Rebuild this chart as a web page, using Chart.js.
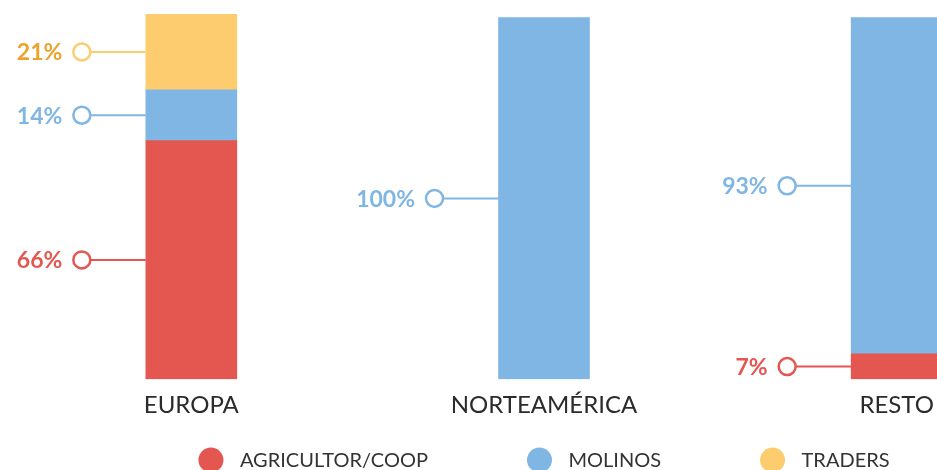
<!DOCTYPE html>
<html>
<head>
<meta charset="utf-8">
<script src="https://cdn.jsdelivr.net/npm/chart.js@4.4.1/dist/chart.umd.min.js"></script>
<style>
  html, body { margin: 0; padding: 0; background: #ffffff; overflow: hidden; }
  #wrap { position: relative; width: 937px; height: 470px; overflow: hidden; }
  #box { position: absolute; left: 0; top: 0; width: 1090px; height: 484px; }
</style>
</head>
<body>
<div id="wrap"><div id="box"><canvas id="c"></canvas></div></div>
<script>
const categories = ["EUROPA", "NORTEAMÉRICA", "RESTO"];
const seriesNames = ["AGRICULTOR/COOP", "MOLINOS", "TRADERS"];
const agricultor = [66, null, 7];
const molinos = [14, 100, 93];
const traders = [21, null, null];

const barColors = ["#E35750", "#80B6E3", "#FDCC6E"];
const labelTextColors = ["#E35750", "#80B6E3", "#EBA32C"];
const FONT = "Lato, 'Open Sans', sans-serif";

const valueLabels = {
  id: "valueLabels",
  afterDatasetsDraw(chart) {
    const ctx = chart.ctx;
    chart.data.datasets.forEach((ds, di) => {
      const meta = chart.getDatasetMeta(di);
      meta.data.forEach((el, i) => {
        const v = ds.data[i];
        if (!v) return;
        const left = el.x - el.width / 2;
        const y = (el.y + el.base) / 2;
        const cx = left - 64;
        const r = 8.5;
        ctx.save();
        ctx.strokeStyle = ds.backgroundColor;
        ctx.lineWidth = 2;
        ctx.beginPath();
        ctx.moveTo(cx + r, y);
        ctx.lineTo(left, y);
        ctx.stroke();
        ctx.lineWidth = 2.5;
        ctx.fillStyle = "#ffffff";
        ctx.beginPath();
        ctx.arc(cx, y, r, 0, Math.PI * 2);
        ctx.fill();
        ctx.stroke();
        ctx.fillStyle = labelTextColors[di];
        ctx.font = "bold 23px " + FONT;
        ctx.textAlign = "right";
        ctx.textBaseline = "middle";
        ctx.fillText(v + "%", cx - r - 11, y + 1);
        ctx.restore();
      });
    });
  }
};

const customLegend = {
  id: "customLegend",
  afterDraw(chart) {
    const ctx = chart.ctx;
    ctx.save();
    ctx.font = "20px " + FONT;
    const r = 12.5, textGap = 29, itemGap = 99;
    const items = chart.data.datasets.map(ds => ({
      text: ds.label, color: ds.backgroundColor,
      w: r + textGap + ctx.measureText(ds.label).width
    }));
    const total = items.reduce((s, it) => s + it.w, 0) + itemGap * (items.length - 1);
    const center = chart.scales.x.getPixelForValue(1);
    let x = center - total / 2;
    const y = 460;
    items.forEach(it => {
      const cx = x + r;
      ctx.fillStyle = it.color;
      ctx.beginPath();
      ctx.arc(cx, y, r, 0, Math.PI * 2);
      ctx.fill();
      ctx.fillStyle = "#333333";
      ctx.textAlign = "left";
      ctx.textBaseline = "middle";
      ctx.fillText(it.text, cx + textGap, y + 1);
      x += it.w + itemGap;
    });
    ctx.restore();
  }
};

new Chart(document.getElementById("c"), {
  type: "bar",
  data: {
    labels: categories,
    datasets: [
      { label: seriesNames[0], data: agricultor, backgroundColor: barColors[0] },
      { label: seriesNames[1], data: molinos, backgroundColor: barColors[1] },
      { label: seriesNames[2], data: traders, backgroundColor: barColors[2] }
    ]
  },
  options: {
    responsive: true,
    maintainAspectRatio: false,
    animation: false,
    barThickness: 91,
    layout: { padding: { left: 15, right: 17, top: 14, bottom: 52 } },
    plugins: { legend: { display: false }, tooltip: { enabled: false } },
    scales: {
      x: {
        stacked: true,
        grid: { display: false, drawTicks: false },
        border: { display: false },
        ticks: { color: "#2b2b2b", font: { family: FONT, size: 24 }, padding: 12 }
      },
      y: {
        stacked: true,
        display: false,
        min: 0,
        max: 101
      }
    }
  },
  plugins: [valueLabels, customLegend]
});
</script>
</body>
</html>
